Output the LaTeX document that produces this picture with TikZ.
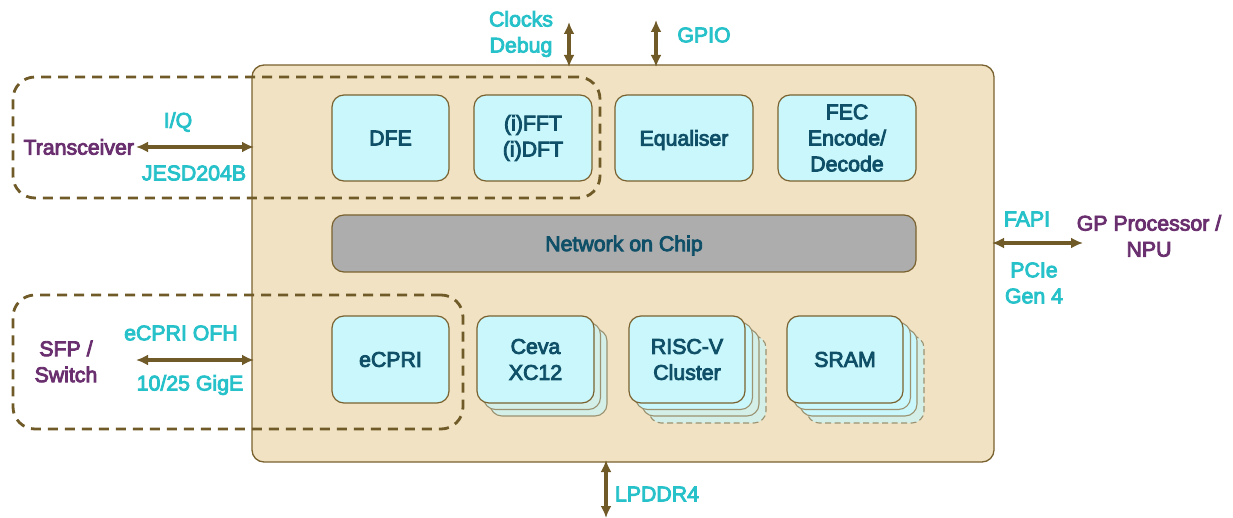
\documentclass[tikz,border=0pt]{standalone}
\usepackage{fontspec}
\setmainfont[FakeBold=4]{Liberation Sans}
\usetikzlibrary{arrows.meta,calc}
\definecolor{chipfill}{HTML}{F0E2C2}
\definecolor{edge}{HTML}{7A6230}
\definecolor{darkedge}{HTML}{6F5A28}
\definecolor{blockfill}{HTML}{C9F7FB}
\definecolor{layerfill}{HTML}{D3EFE8}
\definecolor{layeredge}{HTML}{9A9270}
\definecolor{blocktext}{HTML}{0F5068}
\definecolor{nocfill}{HTML}{ADADAD}
\definecolor{teal}{HTML}{27C1C9}
\definecolor{plum}{HTML}{6A2F6E}
\newcommand{\capcentred}[1]{\raisebox{-7.6pt}[0pt][0pt]{#1}}
\tikzset{
  x=1pt,y=-1pt,
  every node/.style={font=\fontsize{21.3}{26}\selectfont,align=center,inner sep=0pt,outer sep=0pt},
  block/.style={draw=edge,line width=1.2pt,fill=blockfill,rounded corners=12pt,text=blocktext,anchor=north west,minimum width=#1},
  block/.default=117pt,
  backlayer/.style={draw=layeredge,line width=1.1pt,fill=blockfill,rounded corners=12pt,anchor=north west,minimum width=117pt,minimum height=87pt},
  lastlayer/.style={backlayer,fill=layerfill},
  lastdashed/.style={lastlayer,dashed,dash pattern=on 6pt off 3.5pt},
  group/.style={draw=darkedge,line width=2.8pt,dash pattern=on 10pt off 7pt,rounded corners=22pt,anchor=north west},
  link/.style={draw=darkedge,line width=3.2pt,{Latex[length=12pt,width=11pt]}-{Latex[length=12pt,width=11pt]},shorten >=-2pt,shorten <=-1pt},
  tealtext/.style={text=teal},
  plumtext/.style={text=plum},
}
\begin{document}
\begin{tikzpicture}
\useasboundingbox (0,0) rectangle (1233,518);
% chip
\node[draw=edge,line width=1.3pt,fill=chipfill,rounded corners=12pt,anchor=north west,minimum width=742pt,minimum height=397pt] (chip) at (252,65) {};
% top row
\node[block,minimum height=86pt] (dfe) at (332,95) {DFE};
\node[block=118pt,minimum height=86pt] (fft) at (474,95) {(i)FFT\\(i)DFT};
\node[block=138pt,minimum height=86pt] (eq) at (615,95) {\capcentred{Equaliser}};
\node[block=138pt,minimum height=86pt] (fec) at (778,95) {FEC\\Encode/\\Decode};
% NoC
\node[block=584pt,minimum height=57pt,fill=nocfill] (noc) at (332,215) {\capcentred{Network on Chip}};
% bottom row
\node[block,minimum height=87pt] (ecpri) at (332,316) {eCPRI};
% Ceva stack
\node[lastlayer] (ceva3) at (490,329) {};
\node[backlayer,fill=layerfill] (ceva2) at (483.5,322.5) {};
\node[block,minimum height=87pt] (ceva) at (477,316) {Ceva\\XC12};
% RISC-V stack
\node[lastdashed] (risc4) at (649,336) {};
\node[lastlayer] (risc3) at (642,329) {};
\node[backlayer] (risc2) at (635.5,322.5) {};
\node[block=116pt,minimum height=87pt] (risc) at (629,316) {RISC-V\\Cluster};
% SRAM stack
\node[lastdashed] (sram4) at (807,336) {};
\node[backlayer] (sram3) at (800,329) {};
\node[backlayer] (sram2) at (793.5,322.5) {};
\node[block=116pt,minimum height=87pt] (sram) at (787,316) {SRAM};
% dashed groups
\node[group,minimum width=587pt,minimum height=121pt] (radio) at (13,77) {};
\node[group,minimum width=450pt,minimum height=134pt] (fronthaul) at (13,295) {};
% outer labels
\node[plumtext,anchor=east,outer xsep=3pt] (trans) at (137,147) {Transceiver};
\node[tealtext] (iq) at (178,122) {I/Q};
\node[tealtext] (jesd) at (194,173) {JESD204B};
\node[plumtext] (sfp) at (66,361.5) {SFP /\\Switch};
\node[tealtext] (ofh) at (181,333) {eCPRI OFH};
\node[tealtext] (gige) at (190,385) {10/25 GigE};
\node[tealtext] (clk) at (521,34) {Clocks\\Debug};
\node[tealtext] (gpio) at (704,35) {GPIO};
\node[tealtext] (fapi) at (1027,219) {FAPI};
\node[tealtext] (pcie) at (1034,283) {PCIe\\Gen 4};
\node[plumtext] (gp) at (1149,236) {GP Processor /\\NPU};
\node[tealtext] (ddr) at (657,494) {LPDDR4};
% free ends
\coordinate (clkend) at (569,23);
\coordinate (gpioend) at (656,21);
\coordinate (ddrend) at (606,517);
\coordinate (sfpend) at (137,360);
\coordinate (gpend) at (1082,243);
% connectors
\draw[link] (trans.east) -- (trans.east -| chip.west);
\draw[link] (sfpend) -- (sfpend -| chip.west);
\draw[link] (clkend) -- (clkend |- chip.north);
\draw[link] (gpioend) -- (gpioend |- chip.north);
\draw[link] (ddrend) -- (ddrend |- chip.south);
\draw[link] (gpend) -- (gpend -| chip.east);
\end{tikzpicture}
\end{document}
